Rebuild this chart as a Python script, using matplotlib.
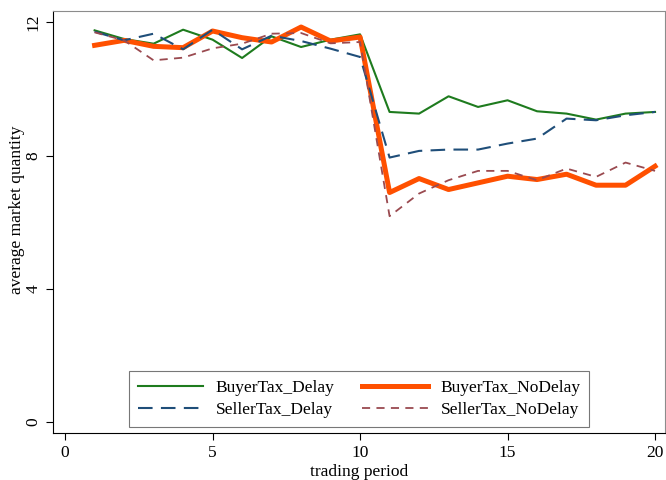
import matplotlib
matplotlib.use("Agg")
import matplotlib.pyplot as plt
import numpy as np

plt.rcParams['font.family'] = ['Liberation Serif', 'DejaVu Serif']

period = np.arange(1, 21)

buyer_delay = [11.76, 11.50, 11.36, 11.78, 11.48, 10.93, 11.58, 11.26, 11.48, 11.64,
               9.31, 9.26, 9.78, 9.46, 9.66, 9.33, 9.26, 9.08, 9.26, 9.31]
buyer_nodelay = [11.31, 11.46, 11.28, 11.24, 11.74, 11.54, 11.41, 11.86, 11.44, 11.56,
                 6.89, 7.31, 6.98, 7.18, 7.38, 7.28, 7.44, 7.11, 7.11, 7.68]
seller_delay = [11.72, 11.46, 11.66, 11.19, 11.78, 11.19, 11.60, 11.44, 11.21, 10.96,
                7.94, 8.14, 8.18, 8.18, 8.36, 8.51, 9.11, 9.06, 9.21, 9.31]
seller_nodelay = [11.70, 11.46, 10.86, 10.94, 11.22, 11.36, 11.66, 11.68, 11.37, 11.41,
                  6.18, 6.86, 7.26, 7.54, 7.54, 7.26, 7.61, 7.36, 7.79, 7.54]

fig = plt.figure(figsize=(6.66, 4.8), dpi=100)
ax = fig.add_axes([0.0796, 0.098, 0.919, 0.879])

ax.plot(period, buyer_delay, color='#1e7b1e', lw=1.5, label='BuyerTax_Delay')
ax.plot(period, buyer_nodelay, color='#ff5000', lw=3.6, label='BuyerTax_NoDelay')
ax.plot(period, seller_delay, color='#1f4e79', lw=1.5, dashes=(7, 4), label='SellerTax_Delay')
ax.plot(period, seller_nodelay, color='#9a4a50', lw=1.3, dashes=(4.5, 3.5), label='SellerTax_NoDelay')

ax.set_xlim(-0.41, 20.34)
ax.set_ylim(-0.33, 12.34)
ax.set_xticks([0, 5, 10, 15, 20])
ax.set_yticks([0, 4, 8, 12])
ax.tick_params(axis='both', direction='out', length=5, width=0.8, labelsize=12.5)
for lab in ax.get_yticklabels():
    lab.set_rotation(90)
    lab.set_va('center')

ax.set_xlabel('trading period', fontsize=12.5, labelpad=2)
ax.set_ylabel('average market quantity', fontsize=12.5)
ax.yaxis.set_label_coords(-0.045, 0.528)

for s in ['top', 'right']:
    ax.spines[s].set_color('#8c8c8c')
for s in ['left', 'bottom']:
    ax.spines[s].set_color('black')

handles, labels = ax.get_legend_handles_labels()
order = [0, 2, 1, 3]
leg = ax.legend([handles[i] for i in order], [labels[i] for i in order],
                ncol=2, loc='lower center', bbox_to_anchor=(0.5, 0.014),
                borderaxespad=0, fontsize=12.5, frameon=True, fancybox=False,
                edgecolor='#555555', handlelength=3.8, columnspacing=1.6,
                labelspacing=0.38, borderpad=0.5, handletextpad=0.7)
leg.get_frame().set_linewidth(0.8)

fig.savefig('out.png', dpi=100)
